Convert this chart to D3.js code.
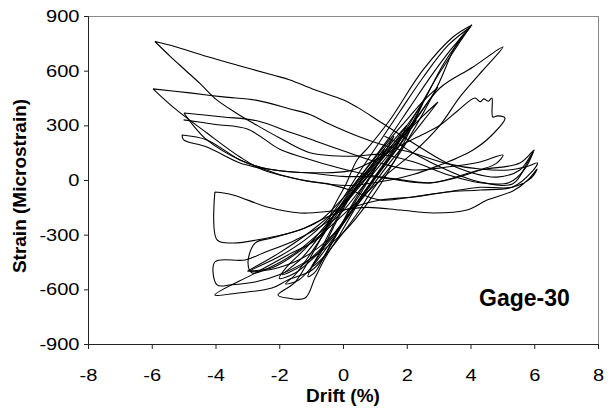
<!DOCTYPE html>
<html>
<head>
<meta charset="utf-8">
<script src="https://cdn.jsdelivr.net/npm/d3@7"></script>
<style>
  html, body { margin: 0; padding: 0; background: #fff; }
  svg { display: block; }
  text { font-family: "Liberation Sans", Arial, sans-serif; fill: #000; }
</style>
</head>
<body>
<svg id="chart" width="615" height="412"></svg>
<script>
// Axis ticks
const driftTicks = [-8, -6, -4, -2, 0, 2, 4, 6, 8];
const strainTicks = [-900, -600, -300, 0, 300, 600, 900];

// Hysteresis traces, [drift %, microstrain]
const loop6a = [[-5.9,760],[-5.33,735],[-4.27,678],[-3.23,626],[-2.2,576],[-1.66,549],[-0.94,498],[0,440],[0.44,400],[1.16,320],[2.2,203],[3.26,93],[4.08,38],[4.83,16],[5.55,55],[5.96,154],
  [5.7,60],[5.2,-15],[4.3,-15],[3.26,30],[2.2,100],[1.16,140],[0.3,130],[-1.04,150],[-2.0,232],[-2.7,300],[-3.33,365],[-4.0,445],[-4.49,530],[-4.96,605],[-5.43,680],[-5.9,760]];
const loop6b = [[-5.96,500],[-4.8,478],[-3.76,456],[-2.7,437],[-1.66,390],[-1.04,360],[-0.5,313],[0.53,236],[1.38,185],[2.2,148],[3.26,90],[4.3,60],[5.2,55],[5.8,75],[6.1,93],
  [5.9,40],[5.33,-38],[4.3,-55],[3.26,-66],[2.2,-93],[1.16,-110],[0.3,-60],[-0.5,-20],[-1.13,-5],[-2.5,55],[-3.23,126],[-4.27,258],[-5.33,400],[-5.96,500]];
const loop5a = [[-4.99,368],[-3.76,346],[-2.7,325],[-1.66,262],[-1.13,230],[0,160],[1.16,93],[2.2,55],[3.26,71],[4.3,99],[5.02,137],
  [4.8,90],[4.3,55],[3.5,10],[2.73,-16],[1.16,16],[0,20],[-1.04,38],[-1.66,45],[-2.5,66],[-3.23,110],[-4.27,220],[-4.7,300],[-4.99,368]];
const loop5b = [[-5.0,330],[-4.0,305],[-3.0,280],[-2.0,170],[-1.3,126],[0,60],[1.16,16],[2.73,-16],[4.3,55],[5.55,93],[6.0,165],
  [5.8,100],[5.33,-20],[4.3,-11],[3.26,55],[2.2,148],[1.6,215],[1.3,240]];
const loop5j = [[-5.05,247],[-4.27,220],[-3.23,110],[-2.5,66],[-1.66,45],[-0.8,40],[0.2,50],[1.0,110],[1.8,190],[2.5,250],[3.04,300],[3.6,380],[4.14,450],[4.3,430],[4.42,445],[4.56,432],[4.67,450],[4.7,346],[4.85,352],[5.08,340],
  [4.61,236],[4.08,165],[3.58,121],[3.04,82],[2.2,30],[1.16,-10],[0.2,-30],[-1.0,-10],[-2.0,30],[-2.5,60],[-3.23,93],[-4.27,181],[-5.0,220],[-5.05,247]];
const loop5k = [[-3,-500],[-2,-400],[-1,-280],[0,-130],[0.8,30],[1.5,170],[2.3,340],[3.04,505],[4.08,620],[5.02,730],
  [4.4,604],[3.67,456],[3.04,300],[2.2,150],[1.3,20],[0.5,-110],[-0.3,-240],[-1.2,-370],[-2.2,-480],[-3,-500]];
const loop4r = [[-4.02,-66],[-3.45,-82],[-2.38,-148],[-1.35,-181],[-0.31,-170],[0.75,-150],[1.8,-165],[2.82,-181],[3.89,-165],[4.52,-110],[5.33,-60],[5.8,0],[6.09,60],
  [5.9,10],[5.3,-40],[4.3,-40],[3.26,-66],[2.2,-93],[1.16,-110],[0.3,-150],[-0.5,-203],[-1.35,-274],[-2.38,-318],[-3.45,-346],[-3.95,-329],[-4.02,-66]];
const loop4s = [[2.5,420],[1.5,180],[0.5,-40],[-0.5,-230],[-1.5,-330],[-2.5,-400],[-3.07,-439],[-4.02,-450],[-3.95,-576],[-3.5,-575],[-2.76,-560],[-2,-520],[-1,-430],[0,-290],[0.8,-120],[1.6,100],[2.5,420]];
const loop4a = [[4.05,851],[3.45,785],[2.51,604],[1.47,329],[0.8,180],[0.44,110],[0.1,-20],[-0.3,-150],[-0.66,-302],[-1.73,-412],[-2.76,-511],[-4.02,-631],
  [-3.29,-620],[-2.23,-593],[-1.73,-549],[-0.97,-494],[-0.4,-380],[0,-290],[0.5,-170],[0.9,-60],[1.6,100],[2.0,210],[2.95,510],[3.58,752],[4.05,851]];
const loop4b = [[4.0,840],[3.3,740],[2.5,560],[1.8,380],[1.0,170],[0.5,40],[0,-100],[-0.5,-220],[-1.2,-330],[-2.0,-420],[-2.9,-500],
  [-2.0,-480],[-1.0,-400],[0,-240],[0.6,-80],[1.2,60],[1.8,200],[2.5,420],[3.2,650],[4.0,840]];
const loop4c = [[3.95,830],[3.4,720],[2.8,580],[2.1,400],[1.4,220],[0.8,80],[0.3,-40],[-0.2,-170],[-0.7,-300],[-1.3,-430],[-1.9,-520],
  [-1.3,-470],[-0.6,-360],[0,-230],[0.5,-110],[1.0,20],[1.6,170],[2.3,370],[3.0,580],[3.6,740],[3.95,830]];
const loop3a = [[2.98,510],[2.5,430],[2,330],[1.5,230],[1,120],[0.5,10],[0,-100],[-0.7,-220],[-1.19,-263],[-2.23,-318],[-2.76,-346],[-2.98,-456],[-2.85,-511],
  [-2.3,-480],[-1.5,-400],[-0.8,-300],[0,-170],[0.6,-40],[1.2,90],[1.8,220],[2.4,360],[2.98,510]];
const loop3b = [[2.98,428],[2.5,350],[2,260],[1.5,170],[1,80],[0.5,-20],[0,-130],[-0.6,-260],[-1.2,-380],[-1.73,-470],[-2.0,-540],
  [-1.5,-510],[-1,-440],[-0.4,-330],[0.2,-190],[0.8,-60],[1.4,80],[2.0,210],[2.5,320],[2.98,428]];
const loop2a = [[2.3,330],[1.8,240],[1.2,130],[0.6,20],[0.1,-100],[-0.4,-230],[-0.88,-380],[-1.5,-560],[-2.04,-631],[-1.73,-648],[-1.19,-648],[-0.88,-538],[-0.56,-428],
  [-0.1,-300],[0.4,-150],[0.9,-20],[1.4,100],[1.9,220],[2.3,330]];
const loop2b = [[2.0,300],[1.5,200],[1.0,90],[0.5,-20],[0,-140],[-0.5,-270],[-1.0,-400],[-1.5,-520],[-1.8,-570],
  [-1.4,-550],[-0.9,-460],[-0.3,-320],[0.2,-190],[0.7,-60],[1.2,60],[1.7,190],[2.0,300]];
const loop1a = [[1.6,240],[1.2,150],[0.8,60],[0.4,-40],[0,-150],[-0.4,-280],[-0.8,-420],[-1.1,-530],
  [-0.9,-510],[-0.5,-390],[-0.1,-260],[0.3,-130],[0.7,-20],[1.1,90],[1.6,240]];
const loop1b = [[1.3,170],[0.9,80],[0.5,-20],[0.1,-130],[-0.3,-260],[-0.7,-400],[-1.0,-480],
  [-0.6,-420],[-0.2,-300],[0.2,-170],[0.6,-60],[1.0,60],[1.3,170]];

const traces = [loop1a, loop1b, loop2a, loop2b, loop3a, loop3b, loop4a, loop4b, loop4c, loop4s, loop4r, loop5k, loop5j, loop5a, loop5b, loop6b, loop6a];

const svg = d3.select("#chart");
const margin = { left: 88, top: 16, right: 17, bottom: 68 };
const W = 615 - margin.left - margin.right;
const H = 412 - margin.top - margin.bottom;

const x = d3.scaleLinear().domain([-8, 8]).range([margin.left, margin.left + W]);
const y = d3.scaleLinear().domain([-900, 900]).range([margin.top + H, margin.top]);

// frame: top and right edges are light
svg.append("line").attr("x1", x(-8)).attr("x2", x(8)).attr("y1", y(900) + 0.5).attr("y2", y(900) + 0.5)
  .attr("stroke", "#8a8a8a").attr("stroke-width", 1);
svg.append("line").attr("x1", x(8) + 0.5).attr("x2", x(8) + 0.5).attr("y1", y(900)).attr("y2", y(-900))
  .attr("stroke", "#8a8a8a").attr("stroke-width", 1);

// traces
const line = d3.line().x(d => x(d[0])).y(d => y(d[1])).curve(d3.curveCatmullRom.alpha(0.5));
svg.append("g").selectAll("path").data(traces).join("path")
  .attr("d", line).attr("fill", "none").attr("stroke", "#000").attr("stroke-width", 1.1)
  .attr("stroke-linejoin", "round");

// axes
const labelScale = 1.18;
const xAxis = d3.axisBottom(x).tickValues(driftTicks).tickSize(5).tickPadding(20).tickFormat(d3.format("d"));
const yAxis = d3.axisLeft(y).tickValues(strainTicks).tickSize(4).tickPadding(5).tickFormat(d3.format("d"));

const gx = svg.append("g").attr("transform", `translate(0,${y(-900)})`).call(xAxis);
const gy = svg.append("g").attr("transform", `translate(${x(-8)},0)`).call(yAxis);
[gx, gy].forEach(g => {
  g.select(".domain").attr("stroke", "#222").attr("stroke-width", 1);
  g.selectAll(".tick line").attr("stroke", "#222");
  g.selectAll(".tick text").attr("font-size", 17).attr("font-family", "Liberation Sans, Arial, sans-serif").attr("fill", "#000")
    .attr("transform", `scale(${labelScale},1)`)
    .text(d => d < 0 ? "-" + Math.abs(d) : d);
});
gy.selectAll(".tick text").attr("x", -8.5 / labelScale);

// titles
svg.append("text").attr("x", x(0)).attr("y", 402).attr("text-anchor", "middle")
  .attr("font-size", 19).attr("font-weight", "bold").text("Drift (%)");
svg.append("text").attr("transform", `translate(26,${186}) rotate(-90)`).attr("text-anchor", "middle")
  .attr("font-size", 19).attr("font-weight", "bold").text("Strain (Microstrain)");
svg.append("text").attr("x", 479).attr("y", 306)
  .attr("font-size", 23).attr("font-weight", "bold").text("Gage-30");
</script>
</body>
</html>
